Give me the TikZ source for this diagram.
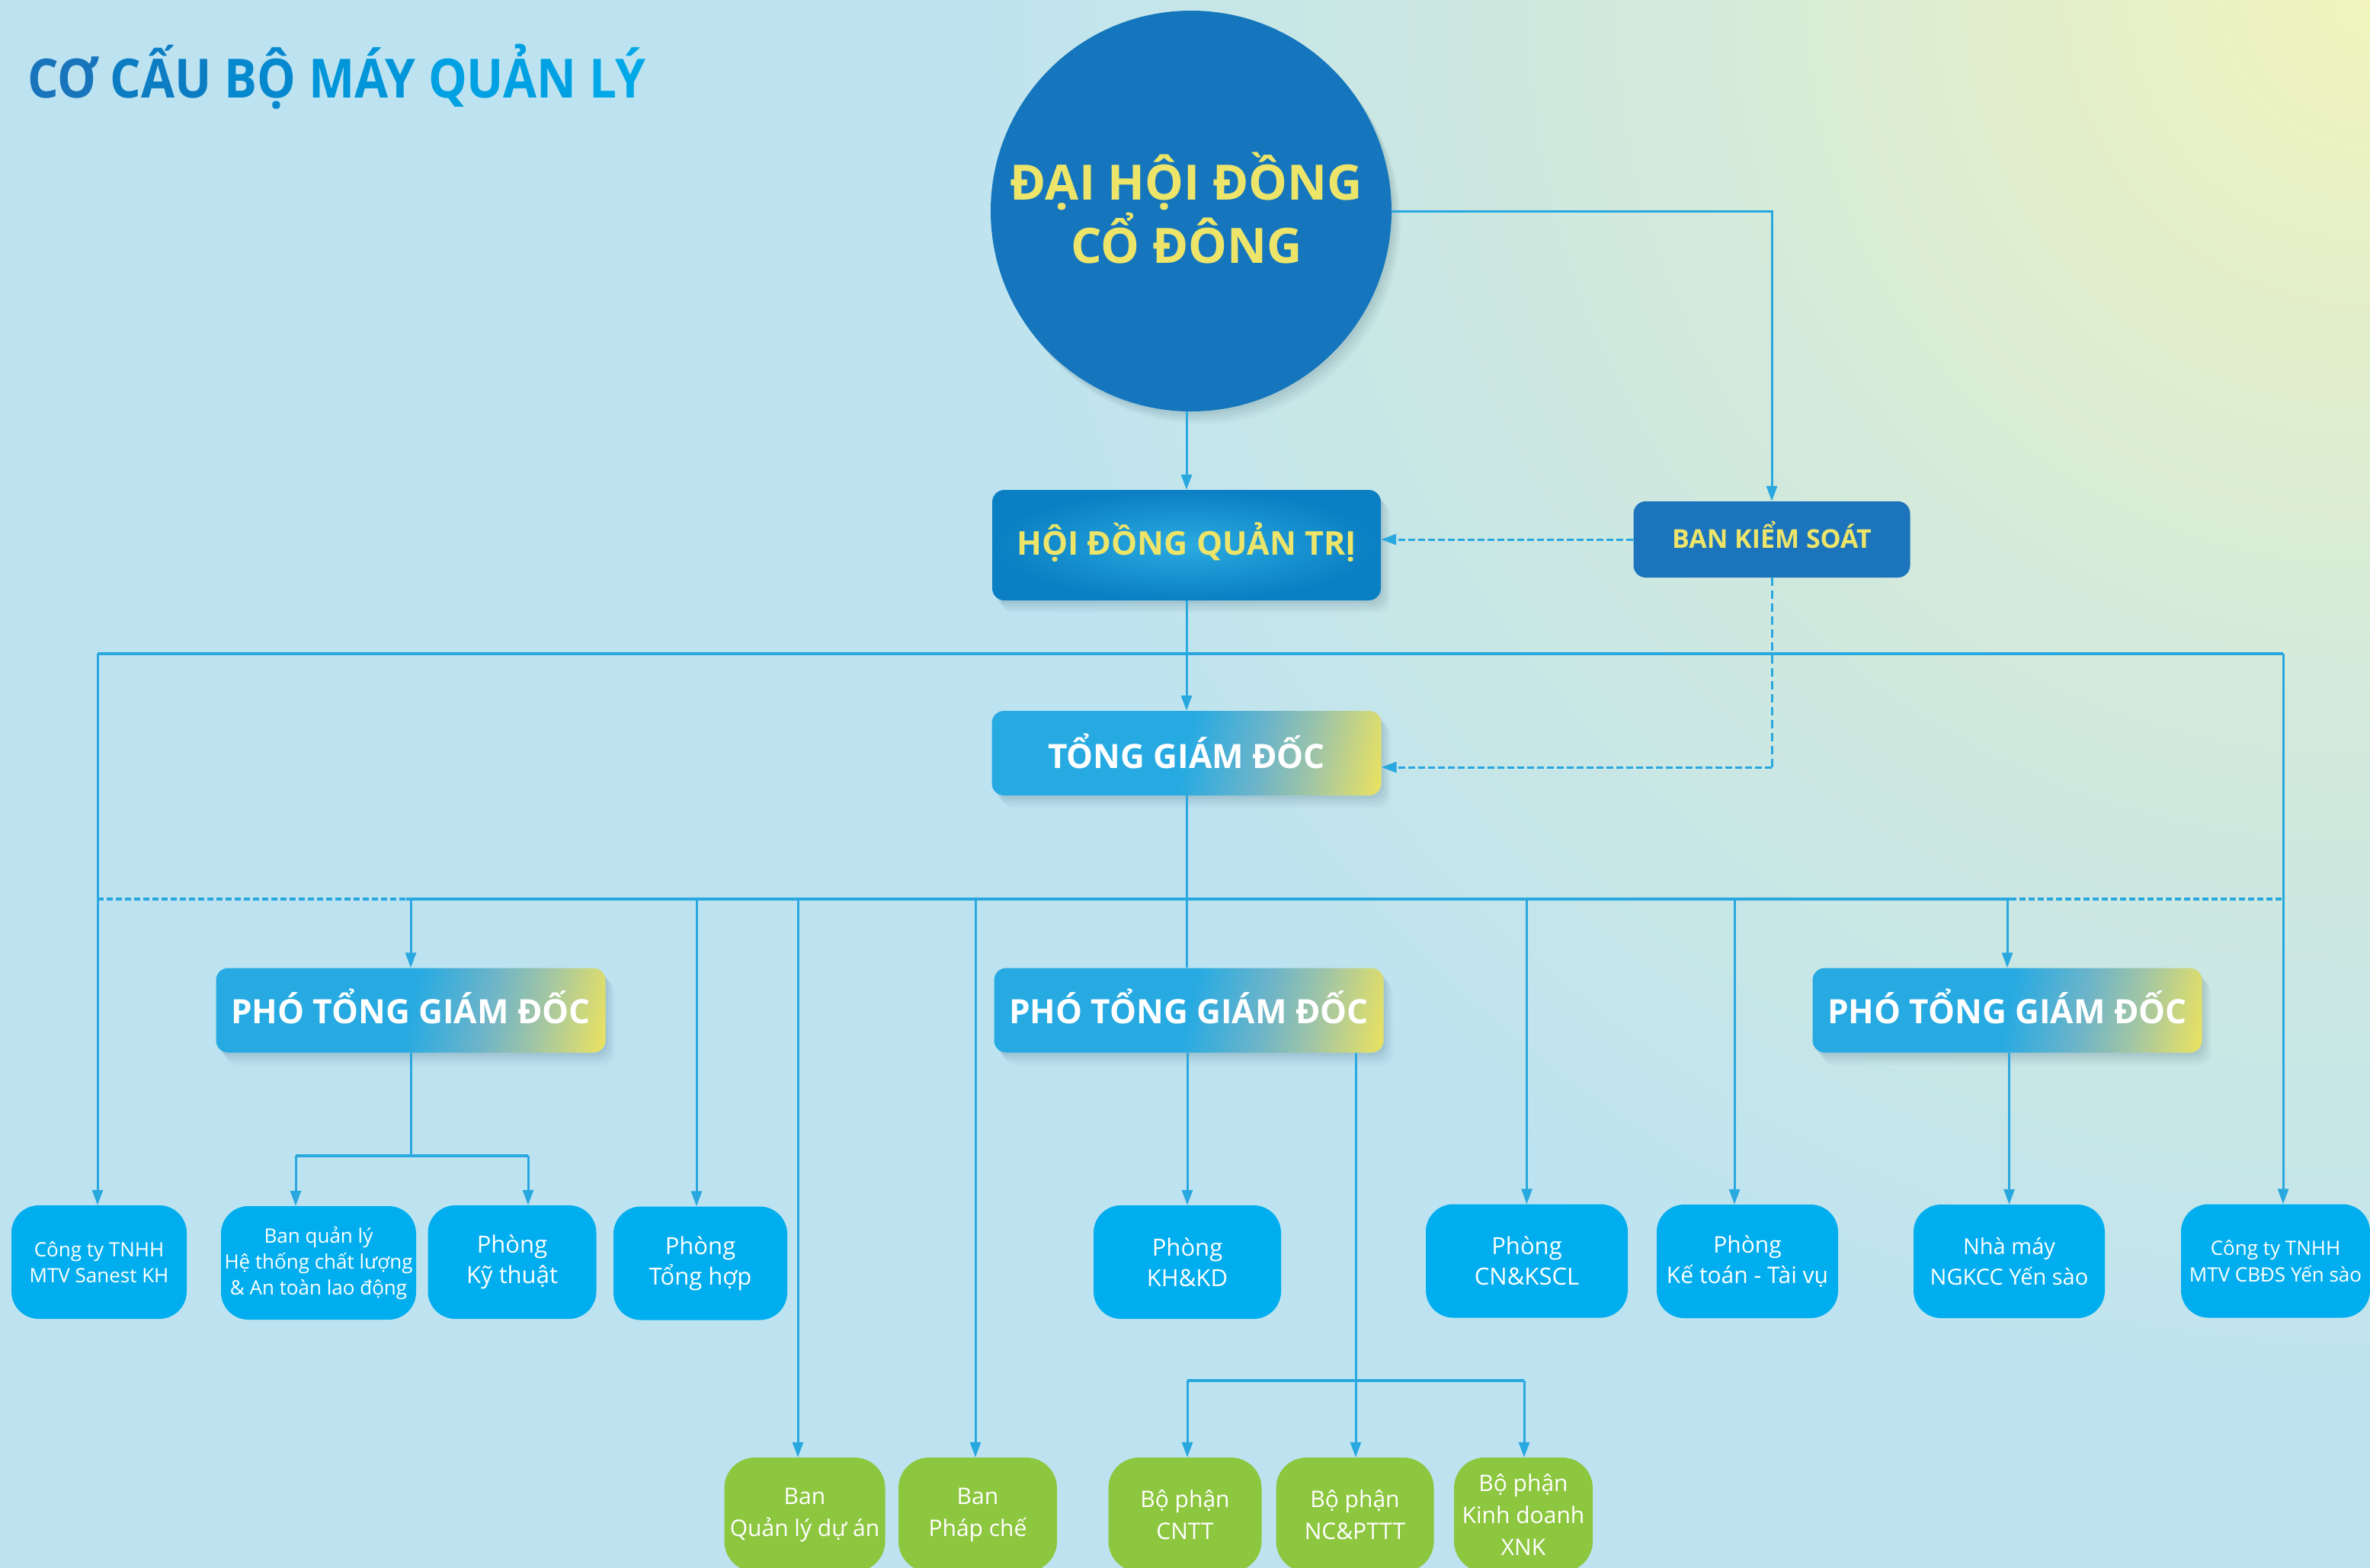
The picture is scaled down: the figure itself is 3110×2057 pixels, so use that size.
\documentclass[tikz,border=0pt]{standalone}
\usepackage{fontspec}
\setmainfont{Open Sans}
\newfontfamily\titlefont{Open Sans}[FakeStretch=0.9]
\usetikzlibrary{arrows.meta,calc}

\definecolor{bgBlue}{HTML}{BDE3F1}
\definecolor{bgMid}{HTML}{D4EADA}
\definecolor{bgYel}{HTML}{F1F4BC}
\definecolor{cLine}{HTML}{29A8E0}
\definecolor{cCirc}{HTML}{1576BD}
\definecolor{cYel}{HTML}{EDE46A}
\definecolor{cBks}{HTML}{1C75BC}
\definecolor{cHlight}{HTML}{2AAAE1}
\definecolor{cHdark}{HTML}{0A7FC3}
\definecolor{gBlue}{HTML}{27AAE2}
\definecolor{gMidA}{HTML}{6CB4C9}
\definecolor{gMidB}{HTML}{A0C5A6}
\definecolor{gYel}{HTML}{EDE35E}
\definecolor{cCyan}{HTML}{00AEEF}
\definecolor{cGreen}{HTML}{8DC63F}
\definecolor{cShadow}{HTML}{36596A}
\definecolor{tA}{HTML}{1874BB}
\definecolor{tB}{HTML}{0C7DC3}
\definecolor{tC}{HTML}{0588CE}
\definecolor{tD}{HTML}{0096D9}
\definecolor{tE}{HTML}{00A1E2}
\definecolor{tF}{HTML}{00A8E8}

\pgfdeclarehorizontalshading{pgdh}{100bp}{color(0bp)=(gBlue); color(50bp)=(gBlue); color(61bp)=(gMidA); color(69bp)=(gMidB); color(80bp)=(gYel); color(100bp)=(gYel)}
\pgfdeclareradialshading{bgshade}{\pgfpoint{0bp}{0bp}}{color(0bp)=(bgYel); color(5.5bp)=(bgMid); color(12bp)=(bgBlue); color(50bp)=(bgBlue)}

\tikzset{
  conn/.style={draw=cLine, line width=3pt},
  arr/.style={conn, -{Triangle[width=14pt,length=20pt]}},
  busline/.style={draw=cLine, line width=4.5pt},
  dsh/.style={dash pattern=on 9pt off 4pt},
  dshv/.style={dash pattern=on 11pt off 6pt},
  dshbus/.style={dash pattern=on 8pt off 4pt},
  softshadow/.style={
    preaction={fill=cShadow, fill opacity=0.06, transform canvas={xshift=3pt,yshift=-4pt}},
    preaction={fill=cShadow, fill opacity=0.06, transform canvas={xshift=6pt,yshift=-8pt}},
    preaction={fill=cShadow, fill opacity=0.05, transform canvas={xshift=9pt,yshift=-12pt}},
    preaction={fill=cShadow, fill opacity=0.04, transform canvas={xshift=12pt,yshift=-16pt}}},
  smallbox/.style={fill=cCyan, rounded corners=36pt, inner sep=0pt, text=white, align=center,
    minimum height=149pt},
  greenbx/.style={fill=cGreen, rounded corners=40pt, inner sep=0pt, text=white, align=center,
    minimum height=150pt, font=\fontsize{30}{42}\selectfont},
  gradbox/.style={rounded corners=16pt, inner sep=0pt, minimum width=511pt, minimum height=111pt,
    text=white, font=\bfseries\fontsize{44}{50}\selectfont,
    shading=pgdh, shading angle=-12, softshadow},
}

\begin{document}
\begin{tikzpicture}[x=1pt,y=-1pt]
\useasboundingbox (0,0) rectangle (3110,2057);
% background
\begin{scope}
  \clip (0,0) rectangle (3110,2057);
  \fill[bgBlue] (0,0) rectangle (3110,2057);
  \shade[shading=bgshade] (3110,0) circle (4000);
\end{scope}

% title
\node[anchor=base west, inner sep=0pt, font=\titlefont\bfseries\fontsize{71}{71}\selectfont] (title) at (36,128)
  {\textcolor{tA}{CƠ} \textcolor{tB}{CẤU} \textcolor{tC}{BỘ} \textcolor{tD}{MÁY} \textcolor{tE}{QUẢN} \textcolor{tF}{LÝ}};

% top
\node[circle, fill=cCirc, minimum size=526pt, inner sep=0pt, softshadow] (circ) at (1563,277) {};
\node[text=cYel, align=center, font=\bfseries\fontsize{64}{83}\selectfont] (circtxt) at (1557,273) {ĐẠI HỘI ĐỒNG\\CỔ ĐÔNG};

\node[rounded corners=16pt, inner sep=0pt, minimum width=510pt, minimum height=145pt,
  text height=32pt, text depth=7pt,
  inner color=cHlight, outer color=cHdark, text=cYel, font=\bfseries\fontsize{43}{50}\selectfont,
  softshadow] (hdqt) at (1557,715.5) {HỘI ĐỒNG QUẢN TRỊ};

\node[rounded corners=16pt, inner sep=0pt, minimum width=363pt, minimum height=100pt,
  text height=24pt, text depth=1.4pt,
  fill=cBks, text=cYel, font=\bfseries\fontsize{34}{40}\selectfont] (bks) at (2325,708) {BAN KIỂM SOÁT};

\node[gradbox, text height=40pt, text depth=0.4pt] (tgd) at (1557,988.5) {TỔNG GIÁM ĐỐC};

% deputies
\node[gradbox, text height=35pt, text depth=0.4pt] (pl) at (539,1326) {PHÓ TỔNG GIÁM ĐỐC};
\node[gradbox, text height=35pt, text depth=0.4pt] (pm) at (1560,1326) {PHÓ TỔNG GIÁM ĐỐC};
\node[gradbox, text height=35pt, text depth=0.4pt] (pr) at (2634,1326) {PHÓ TỔNG GIÁM ĐỐC};

% departments
\node[smallbox, minimum width=230pt, font=\fontsize{26}{34}\selectfont] (sanest) at (130,1656.5) {Công ty TNHH\\MTV Sanest KH};
\node[smallbox, minimum width=256pt, font=\fontsize{26}{34}\selectfont] (bql) at (418,1657.5) {Ban quản lý\\Hệ thống chất lượng\\\& An toàn lao động};
\node[smallbox, minimum width=221pt, font=\fontsize{31}{40}\selectfont] (kt) at (672,1656.5) {Phòng\\Kỹ thuật};
\node[smallbox, minimum width=228pt, font=\fontsize{31}{40}\selectfont] (th) at (919,1658) {Phòng\\Tổng hợp};
\node[smallbox, minimum width=246pt, font=\fontsize{31}{40}\selectfont] (khkd) at (1558,1656.5) {Phòng\\KH\&KD};
\node[smallbox, minimum width=265pt, font=\fontsize{31}{40}\selectfont] (cnk) at (2003.5,1655) {Phòng\\CN\&KSCL};
\node[smallbox, minimum width=238pt, font=\fontsize{30}{40}\selectfont] (ktv) at (2293,1655.5) {Phòng\\Kế toán - Tài vụ};
\node[smallbox, minimum width=251pt, font=\fontsize{29}{40}\selectfont] (nm) at (2636.5,1655.5) {Nhà máy\\NGKCC Yến sào};
\node[smallbox, minimum width=248pt, font=\fontsize{26}{35}\selectfont] (cbds) at (2986,1655) {Công ty TNHH\\MTV CBĐS Yến sào};

% green units
\node[greenbx, minimum width=211pt] (qlda) at (1056,1988) {Ban\\Quản lý dự án};
\node[greenbx, minimum width=208pt] (pc) at (1283,1988) {Ban\\Pháp chế};
\node[greenbx, minimum width=201pt] (cntt) at (1555,1988) {Bộ phận\\CNTT};
\node[greenbx, minimum width=207pt] (ncpt) at (1778,1988) {Bộ phận\\NC\&PTTT};
\node[greenbx, minimum width=182pt] (xnk) at (1999,1988) {Bộ phận\\Kinh doanh\\XNK};

% coordinates of buses
\coordinate (b1L) at (128,858);
\coordinate (b1R) at (2996,858);
\coordinate (b2L) at (128,1180);
\coordinate (b2a) at (533,1180);
\coordinate (b2b) at (2638,1180);
\coordinate (b2R) at (2996,1180);
\coordinate (j1L) at (388,1517);
\coordinate (j1R) at (693,1517);
\coordinate (j2L) at (1558,1812);
\coordinate (j2R) at (2000,1812);
\coordinate (tgdIn) at ([yshift=-18.5pt]tgd.east);
\coordinate (pmOut) at ([xshift=219pt]pm.south);

% connectors: top
\draw[arr] (hdqt.north |- circ.south) -- (hdqt.north);
\draw[arr] (circ.east) -- (circ.east -| bks.north) -- (bks.north);
\draw[arr, dsh] (bks.west) -- (bks.west -| hdqt.east);
\draw[conn, dshv] (bks.south) -- (bks.south |- tgdIn);
\draw[arr, dsh] (bks.south |- tgdIn) -- (tgdIn);
\draw[arr] (hdqt.south) -- (tgd.north);

% first bus
\draw[busline] (b1L) -- (b1R);
\draw[arr] (b1L) -- (b1L |- sanest.north);
\draw[arr] (b1R) -- (b1R |- cbds.north);

% TGD to second bus
\draw[conn] (tgd.south) -- (tgd.south |- pm.north);
\draw[busline, dshbus] (b2L) -- (b2a);
\draw[busline] (b2a) -- (b2b);
\draw[busline, dshbus] (b2b) -- (b2R);

\draw[arr] (pl.north |- b2a) -- (pl.north);
\draw[arr] ([xshift=-5pt]th.north |- b2a) -- ([xshift=-5pt]th.north);
\draw[arr] ([xshift=-9pt]qlda.north |- b2a) -- ([xshift=-9pt]qlda.north);
\draw[arr] ([xshift=-3pt]pc.north |- b2a) -- ([xshift=-3pt]pc.north);
\draw[arr] (cnk.north |- b2a) -- (cnk.north);
\draw[arr] ([xshift=-17pt]ktv.north |- b2a) -- ([xshift=-17pt]ktv.north);
\draw[arr] (pr.north |- b2a) -- (pr.north);

% left deputy
\draw[conn] (pl.south) -- (pl.south |- j1L);
\draw[busline] (j1L) -- (j1R);
\draw[arr] (j1L) -- (j1L |- bql.north);
\draw[arr] (j1R) -- (j1R |- kt.north);

% middle deputy
\draw[arr] (khkd.north |- pm.south) -- (khkd.north);
\draw[arr] (pmOut) -- (pmOut |- ncpt.north);
\draw[busline] (j2L) -- (j2R);
\draw[arr] (j2L) -- (j2L |- cntt.north);
\draw[arr] (j2R) -- (j2R |- xnk.north);

% right deputy
\draw[arr] (nm.north |- pr.south) -- (nm.north);
\end{tikzpicture}
\end{document}
